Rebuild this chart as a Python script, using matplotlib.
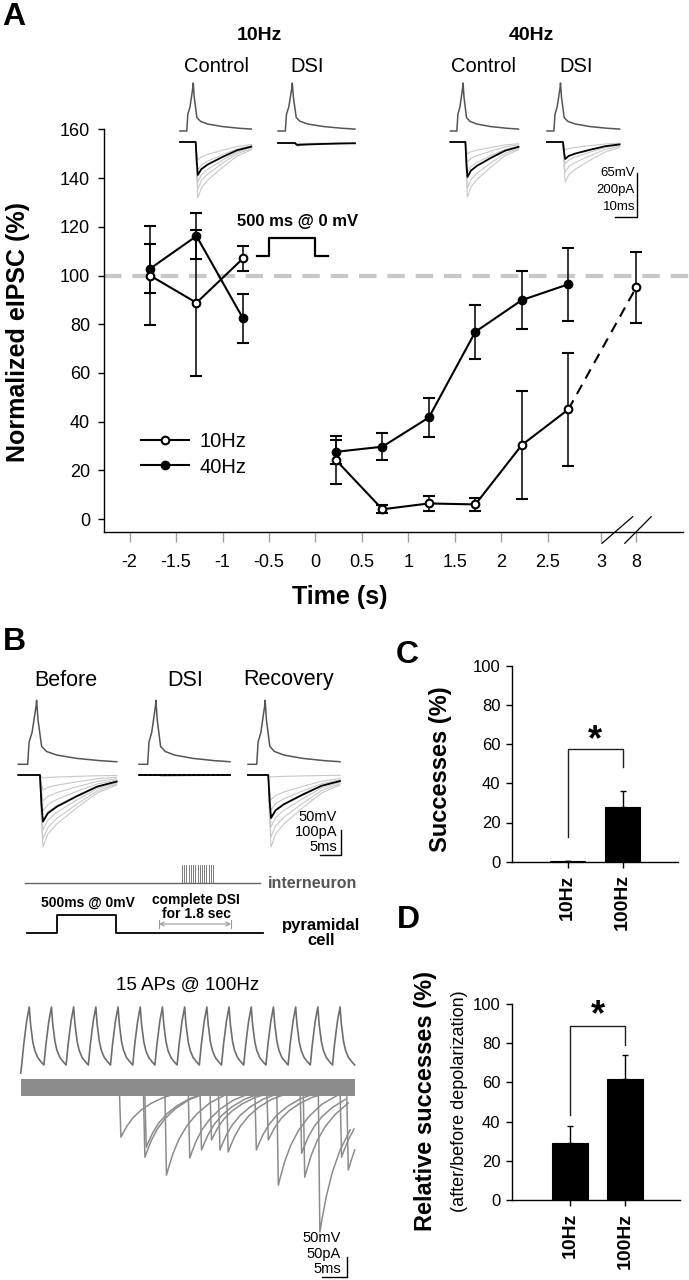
import matplotlib
matplotlib.use('Agg')
import matplotlib.pyplot as plt
from matplotlib.lines import Line2D
import numpy as np

plt.rcParams['font.family'] = ['Liberation Sans', 'DejaVu Sans']
plt.rcParams['axes.linewidth'] = 1.0

W, H = 689, 1280

# ---------------- A: normalized eIPSC vs time ----------------
t_pre = [-1.78, -1.28, -0.78]
t_post = [0.22, 0.72, 1.22, 1.72, 2.22, 2.72]
hz10_pre = [100.0, 88.8, 107.0]
hz10_pre_err = [20.5, 30.0, 5.0]
hz40_pre = [102.8, 116.2, 82.4]
hz40_pre_err = [10.0, 9.5, 10.0]
hz10_post = [24.2, 4.0, 6.4, 6.0, 30.4, 45.0]
hz10_post_err = [10.0, 1.7, 3.0, 2.7, 22.0, 23.3]
hz40_post = [27.6, 29.7, 41.7, 76.9, 89.9, 96.4]
hz40_post_err = [5.0, 5.5, 8.0, 11.0, 12.0, 15.0]
hz10_late = 95.1          # value at t = 8 s
hz10_late_err = 14.7
late_pos = 3.45           # axis position of "8" after the break
xtick_pos = [-2, -1.5, -1, -0.5, 0, 0.5, 1, 1.5, 2, 2.5, 3.07, 3.45]
xtick_lab = ['-2', '-1.5', '-1', '-0.5', '0', '0.5', '1', '1.5', '2', '2.5', '3', '8']
pulse_on, pulse_off = -0.5, 0.0

# ---------------- C / D: successes ----------------
freq_labels = ['10Hz', '100Hz']
success = [0.5, 28.1]
success_err = [0.0, 8.1]
rel_success = [28.9, 61.7]
rel_success_err = [8.9, 12.4]

# ---------------- example traces (shapes) ----------------
ap_t = [0, 0.095, 0.11, 0.14, 0.18, 0.186, 0.20, 0.237, 0.288, 0.39, 0.59, 0.83, 1.0]
ap_v = [0, 0, 0.35, 0.5, 0.9, 1.0, 0.7, 0.28, 0.2, 0.145, 0.093, 0.057, 0.04]
ipsc_t = [0, 0.22, 0.235, 0.25, 0.30, 0.39, 0.59, 0.8, 1.0]
ipsc_v = [0, 0, -0.6, -1.0, -0.82, -0.68, -0.46, -0.25, -0.14]

# 100 Hz train: spike shape (ms after onset, fraction of peak)
spike_t = [0, 0.9, 2.2, 3.4, 4.0, 5.0, 5.9, 7.2, 8.6, 10.0]
spike_v = [0, 0.35, 0.75, 1.0, 0.7, 0.4, 0.25, 0.13, 0.06, 0.0]
n_spikes = 15
# unitary IPSCs in the 100 Hz sweeps: onset (ms from train start), amplitude (pA)
burst_onset = [44, 54.8, 55.4, 64.5, 75, 80.3, 84.8, 88.6, 92.3, 105, 110.4,
               114.9, 125.4, 126.8, 133.6, 143.4, 146.4]
burst_amp = [118, 168, 143, 213, 170, 150, 125, 150, 155, 150, 125,
             238, 158, 218, 355, 168, 200]
ev_t = [0, 0.7, 1.8, 3.6, 6.3, 9.9, 14.4, 20.3, 27.0]
ev_v = [0, 1, 0.9, 0.75, 0.58, 0.42, 0.28, 0.15, 0.06]

fig = plt.figure(figsize=(W / 100, H / 100), dpi=100)


def fbox(x0, y0, x1, y1):
    # pixel box -> figure fraction rect
    return [x0 / W, 1 - y1 / H, (x1 - x0) / W, (y1 - y0) / H]


# ================= panel A axes =================
axA = fig.add_axes(fbox(104.1, 129.4, 686, 531.7))
axA.patch.set_visible(False)
axA.set_xlim(-2.274, 3.986)
axA.set_ylim(-5.2, 160)
for s in ['top', 'right']:
    axA.spines[s].set_visible(False)
axA.spines['bottom'].set_bounds(-2.274, 3.957)
axA.set_yticks(range(0, 161, 20))
axA.set_xticks(xtick_pos)
axA.set_xticklabels(xtick_lab)
axA.tick_params(axis='x', direction='out', length=7, width=1, color='#a0a0a0',
                labelsize=13, pad=9)
axA.tick_params(axis='y', direction='out', length=4, width=1, labelsize=13, pad=6)

axA.plot([-2.274, 4.02], [100, 100], color='#c8c8c8', lw=3, dashes=(4.2, 2.6),
         clip_on=False, zorder=1)

eb = dict(color='k', lw=1.5, elinewidth=1.1, capsize=4, capthick=1.1, ms=5.5,
          mew=1.5, zorder=3, clip_on=False)
axA.errorbar(t_pre, hz40_pre, yerr=hz40_pre_err, fmt='-o', mfc='k', mec='k', **eb)
axA.errorbar(t_post, hz40_post, yerr=hz40_post_err, fmt='-o', mfc='k', mec='k', **eb)
axA.errorbar(t_pre, hz10_pre, yerr=hz10_pre_err, fmt='-o', mfc='white', mec='k', **eb)
axA.errorbar(t_post, hz10_post, yerr=hz10_post_err, fmt='-o', mfc='white', mec='k', **eb)
axA.plot([t_post[-1], late_pos], [hz10_post[-1], hz10_late], color='k', lw=1.5,
         dashes=(5, 3.5), zorder=2)
axA.errorbar([late_pos], [hz10_late], yerr=[hz10_late_err], fmt='o', mfc='white',
             mec='k', **eb)

# depolarizing step
axA.plot([pulse_on - 0.13, pulse_on, pulse_on, pulse_off, pulse_off, pulse_off + 0.14],
         [108, 108, 115.3, 115.3, 108, 108], color='k', lw=1.6, zorder=3)
axA.text(-0.19, 122.1, '500 ms @ 0 mV', ha='center', va='center', fontsize=12,
         fontweight='bold')

leg_handles = [Line2D([], [], color='k', lw=1.5, marker='o', mfc='white', mec='k',
                      ms=5.5, mew=1.5),
               Line2D([], [], color='k', lw=1.5, marker='o', mfc='k', mec='k',
                      ms=5.5, mew=1.5)]
axA.legend(leg_handles, ['10Hz', '40Hz'], loc='center left', frameon=False,
           bbox_to_anchor=(140.6 / W, 1 - 454.5 / H), bbox_transform=fig.transFigure,
           borderpad=0, borderaxespad=0, handlelength=2.4, handletextpad=0.5,
           labelspacing=0.3, fontsize=14.5)

# ================= panels C / D =================
def bar_panel(box, vals, errs, xlim, br_y, br_left, br_right, star_y):
    ax = fig.add_axes(fbox(*box))
    x = np.arange(len(vals))
    ax.bar(x, vals, width=0.64, color='k', edgecolor='k', lw=0.8, zorder=2)
    ax.errorbar(x, vals, yerr=[np.zeros(len(vals)), errs], fmt='none', ecolor='k',
                elinewidth=1.0, capsize=2.5, capthick=1.0, zorder=1)
    ax.set_xlim(*xlim)
    ax.set_ylim(0, 100)
    ax.set_yticks(range(0, 101, 20))
    ax.set_xticks(x)
    ax.set_xticklabels(freq_labels, rotation=90, fontweight='bold', fontsize=14)
    ax.tick_params(axis='y', length=4, width=1, labelsize=12, pad=4)
    ax.tick_params(axis='x', length=4, width=1, pad=5)
    for s in ['top', 'right']:
        ax.spines[s].set_visible(False)
    ax.plot([0, 0, 1, 1], [br_left, br_y, br_y, br_right], color='#202020', lw=1.0)
    ax.text(0.5, star_y, '*', ha='center', va='center', fontsize=26, fontweight='bold')
    return ax

axC = bar_panel((511.7, 665.7, 678, 861.7), success, success_err, (-1.018, 2.005),
                57.3, 12.8, 48.5, 62.0)
axD = bar_panel((511.7, 1004, 680, 1200), rel_success, rel_success_err, (-1.06, 2.0),
                88.8, 43.4, 79.0, 94.0)

# ================= overlay in pixel coordinates =================
ov = fig.add_axes([0, 0, 1, 1], zorder=10)
ov.set_xlim(0, W)
ov.set_ylim(H, 0)
ov.axis('off')

AP_COL = '#555555'
GRAY = '#c8c8c8'


def draw_ap(x0, x1, base, height, color=AP_COL, lw=1.1):
    xs = x0 + np.array(ap_t) * (x1 - x0)
    ys = base - np.array(ap_v) * height
    ov.plot(xs, ys, color=color, lw=lw)


def draw_ipsc(x0, x1, base, depth, color, lw):
    xs = x0 + np.array(ipsc_t) * (x1 - x0)
    ys = base - np.array(ipsc_v) * depth
    ov.plot(xs, ys, color=color, lw=lw)


def inset(x0, x1, ap_base, ap_h, i_base, black, grays):
    draw_ap(x0, x1, ap_base, ap_h)
    for g in grays:
        draw_ipsc(x0, x1, i_base, g, GRAY, 0.8)
    draw_ipsc(x0, x1, i_base, black, 'k', 1.3)


# panel letters
for lab, (lx, ly) in zip('ABCD', [(14, 17), (14, 642), (407, 655), (408, 920)]):
    ov.text(lx, ly, lab, ha='center', va='center', fontsize=23, fontweight='bold')

# --- A insets ---
ov.text(259.3, 35, '10Hz', ha='center', va='center', fontsize=14, fontweight='bold')
ov.text(531.7, 35, '40Hz', ha='center', va='center', fontsize=14, fontweight='bold')
for cx, s in [(216.6, 'Control'), (306.7, 'DSI'), (483.4, 'Control'), (576.5, 'DSI')]:
    ov.text(cx, 67, s, ha='center', va='center', fontsize=14.5)
inset(180, 251.3, 131, 48, 142, 33, [56, 47, 40, 28, 18])
inset(278, 355, 131, 48, 143, 2, [3, 1.5, 0.5])
inset(450.4, 518.5, 131, 48, 142, 35, [55, 46, 30, 20, 12])
inset(547, 619.6, 131, 48, 142, 17, [40, 30, 22, 8])
ov.plot([615, 637, 637], [217, 217, 173], color='k', lw=1)
for yy, s in [(173, '65mV'), (190, '200pA'), (207, '10ms')]:
    ov.text(635, yy, s, ha='right', va='center', fontsize=9.5)

# axis break marks on A
ov.plot([602, 632.7], [543.3, 516.7], color='k', lw=0.9)
ov.plot([624.8, 651.2], [543.3, 516.7], color='k', lw=0.9)

ov.text(18, 332, 'Normalized eIPSC (%)', rotation=90, ha='center', va='center',
        fontsize=18, fontweight='bold')
ov.text(340, 597, 'Time (s)', ha='center', va='center', fontsize=18, fontweight='bold')

# --- B insets ---
for cx, s in [(66, 'Before'), (185, 'DSI'), (289, 'Recovery')]:
    ov.text(cx, 680, s, ha='center', va='center', fontsize=15.5)
inset(18.3, 116.7, 764.3, 64, 775, 46.7, [72, 64, 55, 45, 36, 26, 15, 3])
inset(139, 230, 764.3, 64, 775, 0, [1.5, 0.8])
ov.plot([139, 230], [775, 775], color='k', lw=1.4, dashes=(1.5, 1))
inset(248, 340, 764.3, 64, 775, 43, [72, 62, 52, 44, 35, 25, 2])
ov.plot([320, 341, 341], [855, 855, 830], color='k', lw=1)
for yy, s in [(817, '50mV'), (832, '100pA'), (847, '5ms')]:
    ov.text(337, yy, s, ha='right', va='center', fontsize=10.5)

# protocol
PROT = '#666666'
ov.plot([25, 260], [883, 883], color=PROT, lw=1)
for xx in np.linspace(182, 213, n_spikes):
    ov.plot([xx, xx], [865, 883], color=PROT, lw=0.6)
ov.text(268, 883, 'interneuron', ha='left', va='center', fontsize=11.5,
        fontweight='bold', color='#555555')
ov.plot([27, 57, 57, 116, 116, 263], [932.7, 932.7, 915, 915, 932.7, 932.7],
        color='k', lw=1.3)
ov.text(88, 903, '500ms @ 0mV', ha='center', va='center', fontsize=10,
        fontweight='bold')
ov.text(196, 907, 'complete DSI\nfor 1.8 sec', ha='center', va='center', fontsize=10,
        fontweight='bold', linespacing=1.05)
ov.annotate('', xy=(159, 924), xytext=(231, 924),
            arrowprops=dict(arrowstyle='<->', color='#999999', lw=0.8,
                            shrinkA=0, shrinkB=0, mutation_scale=7))
for xx in (159, 231):
    ov.plot([xx, xx], [920, 928], color='#999999', lw=0.8)
ov.text(321, 933, 'pyramidal\ncell', ha='center', va='center', fontsize=12,
        fontweight='bold', linespacing=1.0)

# 100 Hz train
ov.text(187.7, 985, '15 APs @ 100Hz', ha='center', va='center', fontsize=13.5)
TR = '#6e6e6e'
px_ms = 2.22                # horizontal scale of the sweep
x_train = 21.7
tx, ty = [x_train - 1], [1073]
for k in range(n_spikes):
    for t, v in zip(spike_t, spike_v):
        tx.append(x_train + (k * 10 + t) * px_ms)
        ty.append(1065 - v * 58)
ov.plot(tx, ty, color=TR, lw=1.2)

EV = '#8c8c8c'
ov.fill_between([21, 355], [1079, 1079], [1096, 1096], color=EV, lw=0)
pa_px = 20 / 50.0           # 50 pA scale bar = 20 px
for on, amp in zip(burst_onset, burst_amp):
    xs = x_train + (on + np.array(ev_t)) * px_ms
    ys = 1090 + np.array(ev_v) * amp * pa_px
    keep = xs <= 356
    ov.plot(xs[keep], ys[keep], color=EV, lw=1.1)
ov.plot([322, 347, 347], [1277, 1277, 1257], color='k', lw=1)
for yy, s in [(1238, '50mV'), (1254, '50pA'), (1269, '5ms')]:
    ov.text(341, yy, s, ha='right', va='center', fontsize=10.5)

# --- C / D y labels ---
ov.text(440, 769, 'Successes (%)', rotation=90, ha='center', va='center',
        fontsize=17, fontweight='bold')
ov.text(425.5, 1101, 'Relative successes (%)', rotation=90, ha='center', va='center',
        fontsize=17, fontweight='bold')
ov.text(459.5, 1101, '(after/before depolarization)', rotation=90, ha='center',
        va='center', fontsize=13)

fig.savefig('out.png', dpi=100)
